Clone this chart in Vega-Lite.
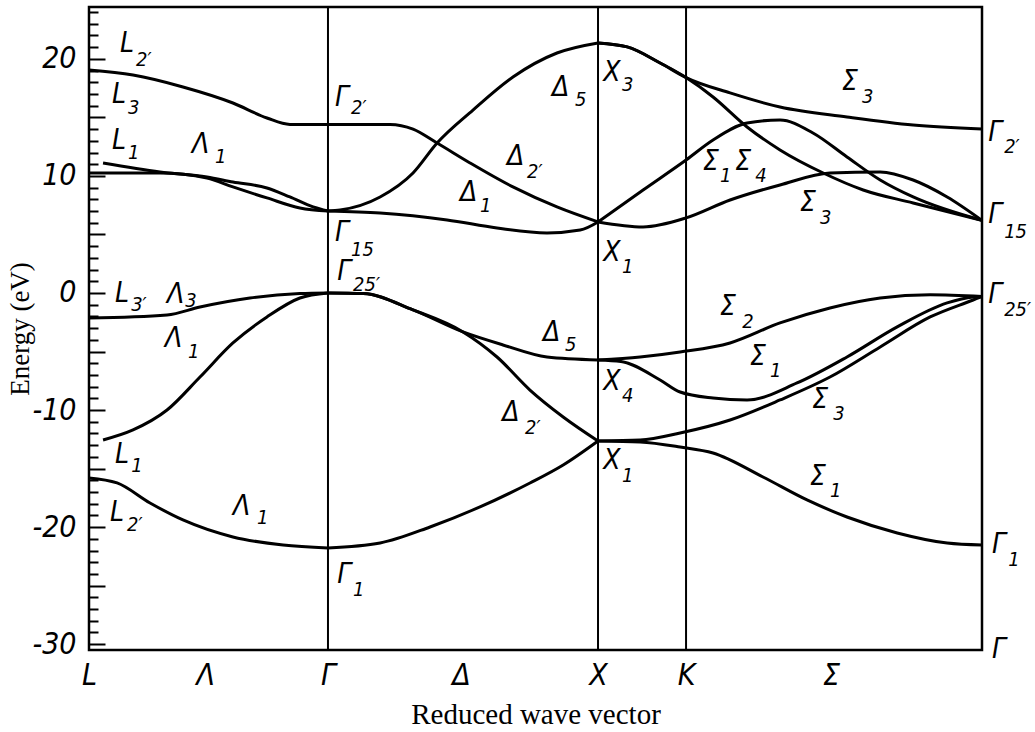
{
  "$schema": "https://vega.github.io/schema/vega-lite/v6.json",
  "width": 893,
  "height": 643,
  "autosize": {"type": "none"},
  "padding": {"left": 89, "top": 7, "right": 53, "bottom": 82},
  "background": "white",
  "config": {
    "view": {"stroke": "black", "strokeWidth": 2.5},
    "axis": {"labelOverlap": false, "labelBound": false, "labelFlush": false},
    "text": {"font": "'Liberation Sans Narrow', 'DejaVu Sans Condensed', 'Liberation Sans', sans-serif", "fontStyle": "italic", "color": "black"}
  },
  "datasets": {
    "bands": [
      {"b": "L3-G2p", "k": 0, "E": 19.05}, {"b": "L3-G2p", "k": 0.163, "E": 18.62}, {"b": "L3-G2p", "k": 0.348, "E": 17.6}, {"b": "L3-G2p", "k": 0.533, "E": 16.23}, {"b": "L3-G2p", "k": 0.659, "E": 14.95}, {"b": "L3-G2p", "k": 0.744, "E": 14.4}, {"b": "L3-G2p", "k": 0.885, "E": 14.4},
      {"b": "L1-G15", "k": 0.052, "E": 11.11}, {"b": "L1-G15", "k": 0.263, "E": 10.34}, {"b": "L1-G15", "k": 0.437, "E": 9.91}, {"b": "L1-G15", "k": 0.533, "E": 9.48}, {"b": "L1-G15", "k": 0.659, "E": 8.97}, {"b": "L1-G15", "k": 0.744, "E": 8.2}, {"b": "L1-G15", "k": 0.83, "E": 7.35}, {"b": "L1-G15", "k": 0.885, "E": 7.0},
      {"b": "L3c-G15", "k": 0, "E": 10.25}, {"b": "L3c-G15", "k": 0.263, "E": 10.25}, {"b": "L3c-G15", "k": 0.437, "E": 9.82}, {"b": "L3c-G15", "k": 0.533, "E": 9.06}, {"b": "L3c-G15", "k": 0.659, "E": 8.12}, {"b": "L3c-G15", "k": 0.781, "E": 7.26}, {"b": "L3c-G15", "k": 0.885, "E": 7.0},
      {"b": "L3p-G25p", "k": 0, "E": -2.14}, {"b": "L3p-G25p", "k": 0.289, "E": -1.88}, {"b": "L3p-G25p", "k": 0.411, "E": -1.2}, {"b": "L3p-G25p", "k": 0.596, "E": -0.43}, {"b": "L3p-G25p", "k": 0.781, "E": -0.05}, {"b": "L3p-G25p", "k": 0.885, "E": 0},
      {"b": "L1v-G25p", "k": 0.052, "E": -12.56}, {"b": "L1v-G25p", "k": 0.163, "E": -11.7}, {"b": "L1v-G25p", "k": 0.289, "E": -10.0}, {"b": "L1v-G25p", "k": 0.411, "E": -7.18}, {"b": "L1v-G25p", "k": 0.533, "E": -4.27}, {"b": "L1v-G25p", "k": 0.659, "E": -2.05}, {"b": "L1v-G25p", "k": 0.781, "E": -0.43}, {"b": "L1v-G25p", "k": 0.885, "E": 0},
      {"b": "L2p-G1", "k": 0, "E": -15.8}, {"b": "L2p-G1", "k": 0.104, "E": -16.23}, {"b": "L2p-G1", "k": 0.226, "E": -17.94}, {"b": "L2p-G1", "k": 0.348, "E": -19.39}, {"b": "L2p-G1", "k": 0.533, "E": -20.84}, {"b": "L2p-G1", "k": 0.719, "E": -21.53}, {"b": "L2p-G1", "k": 0.885, "E": -21.78},
      {"b": "G2p-X1", "k": 0.885, "E": 14.4}, {"b": "G2p-X1", "k": 1.115, "E": 14.4}, {"b": "G2p-X1", "k": 1.2, "E": 14.0}, {"b": "G2p-X1", "k": 1.289, "E": 12.81}, {"b": "G2p-X1", "k": 1.411, "E": 11.11}, {"b": "G2p-X1", "k": 1.57, "E": 9.06}, {"b": "G2p-X1", "k": 1.733, "E": 7.35}, {"b": "G2p-X1", "k": 1.885, "E": 6.07},
      {"b": "G15-X3", "k": 0.885, "E": 7.0}, {"b": "G15-X3", "k": 0.93, "E": 7.09}, {"b": "G15-X3", "k": 1.078, "E": 8.2}, {"b": "G15-X3", "k": 1.2, "E": 10.25}, {"b": "G15-X3", "k": 1.289, "E": 12.81}, {"b": "G15-X3", "k": 1.422, "E": 15.63}, {"b": "G15-X3", "k": 1.57, "E": 18.45}, {"b": "G15-X3", "k": 1.733, "E": 20.5}, {"b": "G15-X3", "k": 1.885, "E": 21.36},
      {"b": "G15-X1", "k": 0.885, "E": 7.0}, {"b": "G15-X1", "k": 1.078, "E": 6.83}, {"b": "G15-X1", "k": 1.326, "E": 6.24}, {"b": "G15-X1", "k": 1.511, "E": 5.55}, {"b": "G15-X1", "k": 1.696, "E": 5.13}, {"b": "G15-X1", "k": 1.819, "E": 5.38}, {"b": "G15-X1", "k": 1.885, "E": 6.07},
      {"b": "G25p-X4", "k": 0.885, "E": 0}, {"b": "G25p-X4", "k": 1.015, "E": -0.05}, {"b": "G25p-X4", "k": 1.2, "E": -1.45}, {"b": "G25p-X4", "k": 1.385, "E": -3.33}, {"b": "G25p-X4", "k": 1.533, "E": -4.44}, {"b": "G25p-X4", "k": 1.696, "E": -5.47}, {"b": "G25p-X4", "k": 1.885, "E": -5.72},
      {"b": "G25p-X1", "k": 0.885, "E": 0}, {"b": "G25p-X1", "k": 1.015, "E": -0.05}, {"b": "G25p-X1", "k": 1.2, "E": -1.45}, {"b": "G25p-X1", "k": 1.385, "E": -3.33}, {"b": "G25p-X1", "k": 1.511, "E": -5.47}, {"b": "G25p-X1", "k": 1.633, "E": -8.29}, {"b": "G25p-X1", "k": 1.756, "E": -10.59}, {"b": "G25p-X1", "k": 1.885, "E": -12.64},
      {"b": "G1-X1", "k": 0.885, "E": -21.78}, {"b": "G1-X1", "k": 1.078, "E": -21.36}, {"b": "G1-X1", "k": 1.263, "E": -19.99}, {"b": "G1-X1", "k": 1.448, "E": -18.28}, {"b": "G1-X1", "k": 1.633, "E": -16.23}, {"b": "G1-X1", "k": 1.756, "E": -14.69}, {"b": "G1-X1", "k": 1.885, "E": -12.64},
      {"b": "X3-G2p", "k": 1.885, "E": 21.36}, {"b": "X3-G2p", "k": 1.993, "E": 21.02}, {"b": "X3-G2p", "k": 2.115, "E": 19.65}, {"b": "X3-G2p", "k": 2.211, "E": 18.4}, {"b": "X3-G2p", "k": 2.374, "E": 17.09}, {"b": "X3-G2p", "k": 2.559, "E": 15.89}, {"b": "X3-G2p", "k": 2.807, "E": 15.04}, {"b": "X3-G2p", "k": 3.052, "E": 14.35}, {"b": "X3-G2p", "k": 3.307, "E": 14.0},
      {"b": "X3-G15", "k": 1.885, "E": 21.36}, {"b": "X3-G15", "k": 1.993, "E": 21.02}, {"b": "X3-G15", "k": 2.115, "E": 19.65}, {"b": "X3-G15", "k": 2.211, "E": 18.4}, {"b": "X3-G15", "k": 2.311, "E": 16.74}, {"b": "X3-G15", "k": 2.437, "E": 14.18}, {"b": "X3-G15", "k": 2.559, "E": 12.22}, {"b": "X3-G15", "k": 2.719, "E": 10.25}, {"b": "X3-G15", "k": 2.867, "E": 8.8}, {"b": "X3-G15", "k": 3.052, "E": 7.69}, {"b": "X3-G15", "k": 3.307, "E": 6.2},
      {"b": "X1-S1-G15", "k": 1.885, "E": 6.07}, {"b": "X1-S1-G15", "k": 2.052, "E": 8.8}, {"b": "X1-S1-G15", "k": 2.211, "E": 11.36}, {"b": "X1-S1-G15", "k": 2.311, "E": 13.07}, {"b": "X1-S1-G15", "k": 2.437, "E": 14.52}, {"b": "X1-S1-G15", "k": 2.559, "E": 14.78}, {"b": "X1-S1-G15", "k": 2.681, "E": 13.67}, {"b": "X1-S1-G15", "k": 2.807, "E": 11.62}, {"b": "X1-S1-G15", "k": 2.93, "E": 9.65}, {"b": "X1-S1-G15", "k": 3.052, "E": 8.2}, {"b": "X1-S1-G15", "k": 3.307, "E": 6.2},
      {"b": "X1-S3-G15", "k": 1.885, "E": 6.07}, {"b": "X1-S3-G15", "k": 2.052, "E": 5.64}, {"b": "X1-S3-G15", "k": 2.211, "E": 6.41}, {"b": "X1-S3-G15", "k": 2.374, "E": 7.94}, {"b": "X1-S3-G15", "k": 2.559, "E": 9.23}, {"b": "X1-S3-G15", "k": 2.744, "E": 10.25}, {"b": "X1-S3-G15", "k": 2.93, "E": 10.34}, {"b": "X1-S3-G15", "k": 3.052, "E": 9.65}, {"b": "X1-S3-G15", "k": 3.178, "E": 8.2}, {"b": "X1-S3-G15", "k": 3.307, "E": 6.2},
      {"b": "X4-S2-G25p", "k": 1.885, "E": -5.72}, {"b": "X4-S2-G25p", "k": 2.041, "E": -5.47}, {"b": "X4-S2-G25p", "k": 2.189, "E": -5.04}, {"b": "X4-S2-G25p", "k": 2.374, "E": -4.27}, {"b": "X4-S2-G25p", "k": 2.559, "E": -2.56}, {"b": "X4-S2-G25p", "k": 2.744, "E": -1.28}, {"b": "X4-S2-G25p", "k": 2.93, "E": -0.43}, {"b": "X4-S2-G25p", "k": 3.115, "E": -0.15}, {"b": "X4-S2-G25p", "k": 3.307, "E": -0.3},
      {"b": "X4-S1-G25p", "k": 1.885, "E": -5.72}, {"b": "X4-S1-G25p", "k": 1.97, "E": -5.85}, {"b": "X4-S1-G25p", "k": 2.115, "E": -7.43}, {"b": "X4-S1-G25p", "k": 2.189, "E": -8.46}, {"b": "X4-S1-G25p", "k": 2.311, "E": -8.97}, {"b": "X4-S1-G25p", "k": 2.437, "E": -9.14}, {"b": "X4-S1-G25p", "k": 2.622, "E": -7.69}, {"b": "X4-S1-G25p", "k": 2.807, "E": -5.47}, {"b": "X4-S1-G25p", "k": 2.993, "E": -2.9}, {"b": "X4-S1-G25p", "k": 3.178, "E": -0.85}, {"b": "X4-S1-G25p", "k": 3.274, "E": -0.34}, {"b": "X4-S1-G25p", "k": 3.307, "E": -0.3},
      {"b": "X1-S3-G25p", "k": 1.885, "E": -12.64}, {"b": "X1-S3-G25p", "k": 2.041, "E": -12.56}, {"b": "X1-S3-G25p", "k": 2.189, "E": -11.96}, {"b": "X1-S3-G25p", "k": 2.374, "E": -10.85}, {"b": "X1-S3-G25p", "k": 2.559, "E": -9.14}, {"b": "X1-S3-G25p", "k": 2.744, "E": -7.18}, {"b": "X1-S3-G25p", "k": 2.93, "E": -4.61}, {"b": "X1-S3-G25p", "k": 3.115, "E": -2.05}, {"b": "X1-S3-G25p", "k": 3.274, "E": -0.6}, {"b": "X1-S3-G25p", "k": 3.307, "E": -0.3},
      {"b": "X1-S1-G1", "k": 1.885, "E": -12.64}, {"b": "X1-S1-G1", "k": 2.041, "E": -12.73}, {"b": "X1-S1-G1", "k": 2.189, "E": -13.16}, {"b": "X1-S1-G1", "k": 2.311, "E": -13.67}, {"b": "X1-S1-G1", "k": 2.496, "E": -15.72}, {"b": "X1-S1-G1", "k": 2.659, "E": -17.68}, {"b": "X1-S1-G1", "k": 2.807, "E": -19.14}, {"b": "X1-S1-G1", "k": 2.993, "E": -20.5}, {"b": "X1-S1-G1", "k": 3.178, "E": -21.36}, {"b": "X1-S1-G1", "k": 3.307, "E": -21.53}
    ],
    "points": [{"k": 0.885}, {"k": 1.885}, {"k": 2.211}],
    "labels": [
      {"t": "L", "p": "m", "k": 0.115, "E": 21.27}, {"t": "2′", "p": "s", "k": 0.174, "E": 19.9},
      {"t": "L", "p": "m", "k": 0.085, "E": 16.91}, {"t": "3", "p": "s", "k": 0.144, "E": 15.8},
      {"t": "L", "p": "m", "k": 0.085, "E": 12.98}, {"t": "1", "p": "s", "k": 0.144, "E": 11.96},
      {"t": "Λ", "p": "m", "k": 0.381, "E": 12.64}, {"t": "1", "p": "s", "k": 0.467, "E": 11.62},
      {"t": "L", "p": "m", "k": 0.096, "E": -0.09}, {"t": "3′", "p": "s", "k": 0.156, "E": -1.03},
      {"t": "Λ", "p": "m", "k": 0.289, "E": -0.17}, {"t": "3", "p": "s", "k": 0.356, "E": -0.68},
      {"t": "Λ", "p": "m", "k": 0.281, "E": -3.93}, {"t": "1", "p": "s", "k": 0.367, "E": -5.04},
      {"t": "L", "p": "m", "k": 0.096, "E": -13.84}, {"t": "1", "p": "s", "k": 0.156, "E": -14.78},
      {"t": "L", "p": "m", "k": 0.078, "E": -18.79}, {"t": "2′", "p": "s", "k": 0.141, "E": -19.82},
      {"t": "Λ", "p": "m", "k": 0.533, "E": -18.28}, {"t": "1", "p": "s", "k": 0.622, "E": -19.22},
      {"t": "Γ", "p": "m", "k": 0.911, "E": 16.66}, {"t": "2′", "p": "s", "k": 0.97, "E": 15.8},
      {"t": "Γ", "p": "m", "k": 0.911, "E": 5.13}, {"t": "15", "p": "s", "k": 0.97, "E": 3.67},
      {"t": "Γ", "p": "m", "k": 0.919, "E": 1.79}, {"t": "25′", "p": "s", "k": 0.978, "E": 0.68},
      {"t": "Γ", "p": "m", "k": 0.919, "E": -24.09}, {"t": "1", "p": "s", "k": 0.978, "E": -25.37},
      {"t": "Δ", "p": "m", "k": 1.715, "E": 17.51}, {"t": "5", "p": "s", "k": 1.8, "E": 16.49},
      {"t": "X", "p": "m", "k": 1.904, "E": 18.79}, {"t": "3", "p": "s", "k": 1.974, "E": 17.77},
      {"t": "Δ", "p": "m", "k": 1.548, "E": 11.62}, {"t": "2′", "p": "s", "k": 1.622, "E": 10.34},
      {"t": "Δ", "p": "m", "k": 1.374, "E": 8.54}, {"t": "1", "p": "s", "k": 1.448, "E": 7.43},
      {"t": "X", "p": "m", "k": 1.904, "E": 3.42}, {"t": "1", "p": "s", "k": 1.974, "E": 2.22},
      {"t": "Δ", "p": "m", "k": 1.681, "E": -3.42}, {"t": "5", "p": "s", "k": 1.763, "E": -4.44},
      {"t": "X", "p": "m", "k": 1.904, "E": -7.6}, {"t": "4", "p": "s", "k": 1.974, "E": -8.8},
      {"t": "Δ", "p": "m", "k": 1.53, "E": -10.25}, {"t": "2′", "p": "s", "k": 1.615, "E": -11.53},
      {"t": "X", "p": "m", "k": 1.904, "E": -14.35}, {"t": "1", "p": "s", "k": 1.974, "E": -15.63},
      {"t": "Σ", "p": "m", "k": 2.789, "E": 18.03}, {"t": "3", "p": "s", "k": 2.863, "E": 16.74},
      {"t": "Γ", "p": "m", "k": 3.33, "E": 13.67}, {"t": "2′", "p": "s", "k": 3.389, "E": 12.47},
      {"t": "Σ", "p": "m", "k": 2.274, "E": 11.19}, {"t": "1", "p": "s", "k": 2.337, "E": 9.99},
      {"t": "Σ", "p": "m", "k": 2.393, "E": 11.19}, {"t": "4", "p": "s", "k": 2.467, "E": 9.99},
      {"t": "Σ", "p": "m", "k": 2.633, "E": 7.69}, {"t": "3", "p": "s", "k": 2.707, "E": 6.41},
      {"t": "Γ", "p": "m", "k": 3.33, "E": 6.66}, {"t": "15", "p": "s", "k": 3.389, "E": 5.21},
      {"t": "Σ", "p": "m", "k": 2.337, "E": -1.2}, {"t": "2", "p": "s", "k": 2.419, "E": -2.48},
      {"t": "Γ", "p": "m", "k": 3.33, "E": -0.17}, {"t": "25′", "p": "s", "k": 3.389, "E": -1.45},
      {"t": "Σ", "p": "m", "k": 2.448, "E": -5.47}, {"t": "1", "p": "s", "k": 2.522, "E": -6.66},
      {"t": "Σ", "p": "m", "k": 2.678, "E": -9.14}, {"t": "3", "p": "s", "k": 2.756, "E": -10.34},
      {"t": "Σ", "p": "m", "k": 2.67, "E": -15.72}, {"t": "1", "p": "s", "k": 2.744, "E": -16.91},
      {"t": "Γ", "p": "m", "k": 3.344, "E": -21.53}, {"t": "1", "p": "s", "k": 3.404, "E": -22.81},
      {"t": "Γ", "p": "m", "k": 3.344, "E": -30.5}
    ]
  },
  "layer": [
    {
      "data": {"name": "points"},
      "mark": {"type": "rule", "color": "black", "strokeWidth": 2},
      "encoding": {
        "x": {"field": "k", "type": "quantitative"}
      }
    },
    {
      "data": {"name": "bands"},
      "mark": {"type": "line", "color": "black", "strokeWidth": 3, "interpolate": "monotone"},
      "encoding": {
        "x": {
          "field": "k", "type": "quantitative",
          "scale": {"domain": [0, 3.307], "nice": false, "zero": false},
          "axis": {
            "values": [0, 0.43, 0.885, 1.378, 1.885, 2.211, 2.748],
            "tickCount": 20,
            "labelExpr": "datum.value < 0.2 ? 'L' : datum.value < 0.6 ? 'Λ' : datum.value < 1.0 ? 'Γ' : datum.value < 1.6 ? 'Δ' : datum.value < 2.0 ? 'X' : datum.value < 2.5 ? 'K' : 'Σ'",
            "labelFont": "'Liberation Sans Narrow', 'DejaVu Sans Condensed', 'Liberation Sans', sans-serif",
            "labelFontStyle": "italic",
            "labelFontSize": 30,
            "labelColor": "black",
            "labelPadding": 10,
            "ticks": false,
            "tickSize": 0,
            "domain": false,
            "grid": false,
            "title": "Reduced wave vector",
            "titleFont": "'Liberation Serif', 'DejaVu Serif', serif",
            "titleFontSize": 29,
            "titleFontWeight": "normal",
            "titleColor": "black",
            "titlePadding": 10
          }
        },
        "y": {
          "field": "E", "type": "quantitative",
          "scale": {"domain": [-30.5, 24.43], "nice": false, "zero": false},
          "axis": {
            "values": [-30, -29, -28, -27, -26, -25, -24, -23, -22, -21, -20, -19, -18, -17, -16, -15, -14, -13, -12, -11, -10, -9, -8, -7, -6, -5, -4, -3, -2, -1, 0, 1, 2, 3, 4, 5, 6, 7, 8, 9, 10, 11, 12, 13, 14, 15, 16, 17, 18, 19, 20, 21, 22, 23, 24],
            "tickCount": 100,
            "labelExpr": "datum.value % 10 === 0 ? (datum.value < 0 ? '-' + abs(datum.value) : '' + datum.value) : ''",
            "labelFont": "'Liberation Sans Narrow', 'DejaVu Sans Condensed', 'Liberation Sans', sans-serif",
            "labelFontStyle": "italic",
            "labelFontSize": 30,
            "labelColor": "black",
            "labelPadding": 29,
            "labelOverlap": false,
            "labelBound": false,
            "tickColor": "black",
            "tickWidth": 2,
            "tickSize": {"condition": {"test": "datum.value % 5 === 0", "value": -16}, "value": -9},
            "domain": false,
            "grid": false,
            "title": "Energy (eV)",
            "titleFont": "'Liberation Serif', 'DejaVu Serif', serif",
            "titleFontSize": 27,
            "titleFontWeight": "normal",
            "titleColor": "black",
            "titlePadding": -3
          }
        },
        "detail": {"field": "b", "type": "nominal"}
      }
    },
    {
      "data": {"name": "labels"},
      "mark": {"type": "text", "align": "left", "baseline": "middle"},
      "encoding": {
        "x": {"field": "k", "type": "quantitative"},
        "y": {"field": "E", "type": "quantitative"},
        "text": {"field": "t", "type": "nominal"},
        "size": {"field": "p", "type": "nominal", "scale": {"domain": ["m", "s"], "range": [28, 20]}, "legend": null}
      }
    }
  ]
}
